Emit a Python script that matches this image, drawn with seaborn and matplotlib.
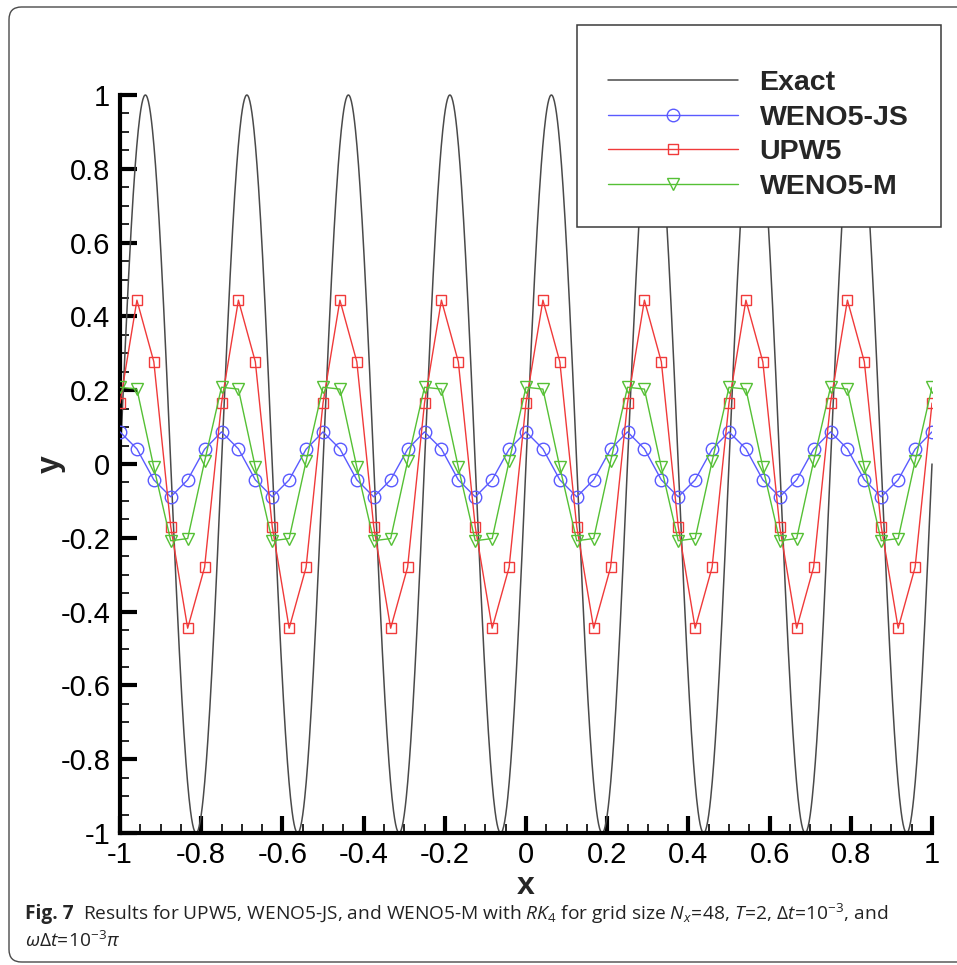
import numpy as np
import pandas as pd
import matplotlib
matplotlib.use("Agg")
import matplotlib.pyplot as plt
from matplotlib.patches import Rectangle, FancyBboxPatch
from matplotlib.ticker import MultipleLocator
import seaborn as sns

# ---- data -------------------------------------------------------------
# grid of Nx = 48 cells on [-1, 1]
n_cells = 48
x_nodes = np.linspace(-1.0, 1.0, n_cells + 1)

# analytic solution u(x, T) = sin(8*pi*(x - T)), T = 2
exact_amplitude = 1.0
exact_wavenumber = 8.0
x_exact = np.linspace(-1.0, 1.0, 1601)
y_exact = exact_amplitude * np.sin(exact_wavenumber * np.pi * x_exact)

weno5_js = [
    0.087, 0.041, -0.043, -0.089, -0.043, 0.040,
    0.087, 0.041, -0.043, -0.089, -0.043, 0.040,
    0.087, 0.041, -0.043, -0.089, -0.043, 0.040,
    0.087, 0.041, -0.043, -0.089, -0.043, 0.040,
    0.087, 0.041, -0.043, -0.089, -0.043, 0.040,
    0.087, 0.041, -0.043, -0.089, -0.043, 0.040,
    0.087, 0.041, -0.043, -0.089, -0.043, 0.040,
    0.087, 0.041, -0.043, -0.089, -0.043, 0.040,
    0.087,
]
upw5 = [
    0.165, 0.444, 0.277, -0.170, -0.445, -0.280,
    0.165, 0.444, 0.277, -0.170, -0.445, -0.280,
    0.165, 0.444, 0.277, -0.170, -0.445, -0.280,
    0.165, 0.444, 0.277, -0.170, -0.445, -0.280,
    0.165, 0.444, 0.277, -0.170, -0.445, -0.280,
    0.165, 0.444, 0.277, -0.170, -0.445, -0.280,
    0.165, 0.444, 0.277, -0.170, -0.445, -0.280,
    0.165, 0.444, 0.277, -0.170, -0.445, -0.280,
    0.165,
]
weno5_m = [
    0.208, 0.203, -0.009, -0.208, -0.202, 0.007,
    0.208, 0.203, -0.009, -0.208, -0.202, 0.007,
    0.208, 0.203, -0.009, -0.208, -0.202, 0.007,
    0.208, 0.203, -0.009, -0.208, -0.202, 0.007,
    0.208, 0.203, -0.009, -0.208, -0.202, 0.007,
    0.208, 0.203, -0.009, -0.208, -0.202, 0.007,
    0.208, 0.203, -0.009, -0.208, -0.202, 0.007,
    0.208, 0.203, -0.009, -0.208, -0.202, 0.007,
    0.208,
]

x_ticks = [-1, -0.8, -0.6, -0.4, -0.2, 0, 0.2, 0.4, 0.6, 0.8, 1]
x_tick_labels = ["-1", "-0.8", "-0.6", "-0.4", "-0.2", "0", "0.2", "0.4", "0.6", "0.8", "1"]
y_ticks = [-1, -0.8, -0.6, -0.4, -0.2, 0, 0.2, 0.4, 0.6, 0.8, 1]
y_tick_labels = ["-1", "-0.8", "-0.6", "-0.4", "-0.2", "0", "0.2", "0.4", "0.6", "0.8", "1"]

series_names = ["Exact", "WENO5-JS", "UPW5", "WENO5-M"]

df_exact = pd.DataFrame({"x": x_exact, "y": y_exact})
df_num = pd.DataFrame({"x": x_nodes, "WENO5-JS": weno5_js, "UPW5": upw5, "WENO5-M": weno5_m})

# ---- style ------------------------------------------------------------
sns.set_style("white")
plt.rcParams["font.family"] = ["Liberation Sans", "DejaVu Sans"]
plt.rcParams["axes.unicode_minus"] = False
plt.rcParams["mathtext.fontset"] = "custom"
plt.rcParams["mathtext.rm"] = "Open Sans"
plt.rcParams["mathtext.it"] = "Open Sans:italic"
plt.rcParams["mathtext.bf"] = "Open Sans:bold"

W, H = 957, 965
fig = plt.figure(figsize=(W / 100, H / 100), dpi=100)
fig.patch.set_facecolor("white")

ax_l, ax_r, ax_t, ax_b = 120, 932, 95, 833
ax = fig.add_axes([ax_l / W, 1 - ax_b / H, (ax_r - ax_l) / W, (ax_b - ax_t) / H])
ax.set_facecolor("none")

styles = {
    "WENO5-JS": dict(color="#5a5aff", marker="o", markersize=9.0),
    "UPW5": dict(color="#f03a3a", marker="s", markersize=7.2),
    "WENO5-M": dict(color="#55c035", marker="v", markersize=9.0),
}

sns.lineplot(data=df_exact, x="x", y="y", ax=ax, color="#4a4a4a", linewidth=1.1,
             label="Exact", clip_on=False, zorder=2)
for name in series_names[1:]:
    st = styles[name]
    sns.lineplot(data=df_num, x="x", y=name, ax=ax, color=st["color"], linewidth=1.0,
                 marker=st["marker"], markersize=st["markersize"],
                 markerfacecolor="none", markeredgecolor=st["color"],
                 markeredgewidth=1.0, label=name, estimator=None, zorder=3)

ax.set_xlim(-1, 1)
ax.set_ylim(-1, 1)
ax.set_xticks(x_ticks)
ax.set_xticklabels(x_tick_labels)
ax.set_yticks(y_ticks)
ax.set_yticklabels(y_tick_labels)
ax.xaxis.set_minor_locator(MultipleLocator(0.05))
ax.yaxis.set_minor_locator(MultipleLocator(0.05))

for side in ("top", "right"):
    ax.spines[side].set_visible(False)
for side in ("left", "bottom"):
    ax.spines[side].set_linewidth(3.0)
    ax.spines[side].set_color("black")

ax.tick_params(which="major", direction="in", length=12.5, width=3.0,
               labelsize=21, colors="black")
ax.tick_params(axis="x", which="major", pad=6)
ax.tick_params(axis="y", which="major", pad=7)
ax.tick_params(which="minor", direction="in", length=6.5, width=1.2, colors="black")
ax.tick_params(axis="x", which="both", bottom=True, top=False)
ax.tick_params(axis="y", which="both", left=True, right=False)

ax.set_xlabel("x", fontsize=23, fontweight="bold", labelpad=1)
ax.set_ylabel("y", fontsize=23, fontweight="bold", labelpad=-4)

# legend: white box with dark outline, entries without their own frame
ax.get_legend().remove()
box = Rectangle((577 / W, 1 - 227 / H), (941 - 577) / W, (227 - 25) / H,
                transform=fig.transFigure, facecolor="white", edgecolor="#3a3a3a",
                linewidth=1.1, zorder=10)
fig.add_artist(box)
handles, labels = ax.get_legend_handles_labels()
leg = fig.legend(handles, labels, loc="upper left",
                 bbox_to_anchor=(608 / W, 1 - 70 / H), frameon=False,
                 prop=dict(family="Liberation Sans", weight="bold", size=20.5),
                 handlelength=4.55, handletextpad=0.77, labelspacing=0.30,
                 borderpad=0, borderaxespad=0)
leg.set_zorder(11)

# outer rounded frame
frame = FancyBboxPatch((9 / W, 1 - 962 / H), (990 - 9) / W, (962 - 7) / H,
                       boxstyle="round,pad=0,rounding_size=0.013",
                       transform=fig.transFigure, facecolor="none",
                       edgecolor="#4a4a4a", linewidth=1.0, zorder=0)
fig.add_artist(frame)

# caption
cap_size = 13.8
y1 = 1 - 914 / H
y2 = 1 - 941 / H
t_bold = fig.text(25 / W, y1, "Fig. 7", fontsize=cap_size, fontweight="bold",
                  family="Open Sans", va="center", ha="left")
fig.canvas.draw()
bb = t_bold.get_window_extent()
fig.text((bb.x1 + 9) / W, y1,
         r"Results for UPW5, WENO5-JS, and WENO5-M with $RK_4$ for grid size "
         r"$N_x\!=\!48$, $T\!=\!2$, $\Delta t\!=\!10^{-3}$, and",
         fontsize=cap_size, family="Open Sans", va="center", ha="left", color="#222222")
fig.text(25 / W, y2, r"$\omega\Delta t\!=\!10^{-3}\pi$", fontsize=cap_size,
         family="Open Sans", va="center", ha="left", color="#222222")

fig.savefig("out.png", dpi=100, facecolor="white")
